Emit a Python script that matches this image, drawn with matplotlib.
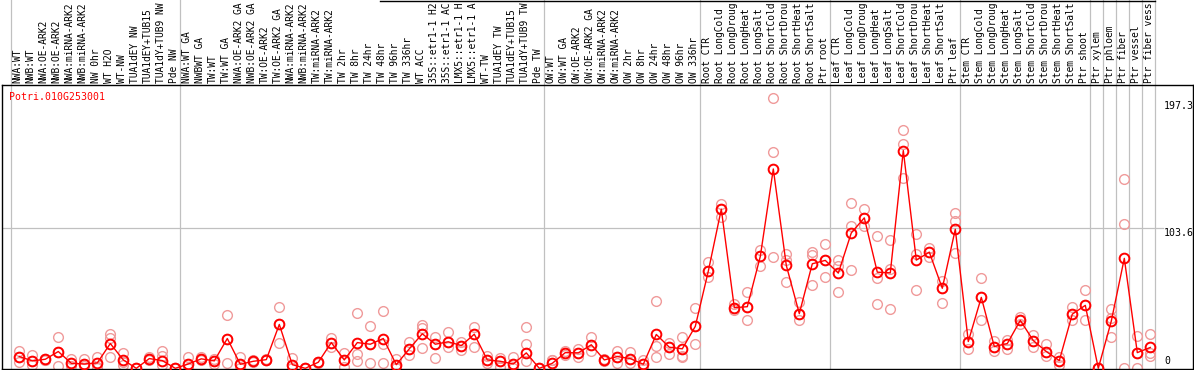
import matplotlib
matplotlib.use("Agg")
import matplotlib.pyplot as plt
from matplotlib.transforms import blended_transform_factory
from matplotlib.lines import Line2D

# sample names (truncated as in the chart)
labels = [
    'NWA:WT', 'NWB:WT', 'NWA:OE-ARK2', 'NWB:OE-ARK2', 'NWA:miRNA-ARK2', 'NWB:miRNA-ARK2',
    'NW 0hr', 'WT H2O', 'WT-NW', 'TUA1dEY NW', 'TUA1dEY+TUB15', 'TUA1dY+TUB9 NW', 'Pde NW',
    'NWA:WT GA', 'NWBWT GA', 'TW:WT', 'TW:WT GA', 'NWA:OE-ARK2 GA', 'NWB:OE-ARK2 GA',
    'TW:OE-ARK2', 'TW:OE-ARK2 GA', 'NWA:miRNA-ARK2', 'NWB:miRNA-ARK2', 'TW:miRNA-ARK2',
    'TW:miRNA-ARK2', 'TW 2hr', 'TW 8hr', 'TW 24hr', 'TW 48hr', 'TW 96hr', 'TW 336hr',
    'WT ACC', '35S::etr1-1 H2', '35S::etr1-1 AC', 'LMX5::etr1-1 H', 'LMX5::etr1-1 A',
    'WT-TW', 'TUA1dEY TW', 'TUA1dEY+TUB15', 'TUA1dY+TUB9 TW', 'Pde TW',
    'OW:WT', 'OW:WT GA', 'OW:OE-ARK2', 'OW:OE-ARK2 GA', 'OW:miRNA-ARK2', 'OW:miRNA-ARK2',
    'OW 2hr', 'OW 8hr', 'OW 24hr', 'OW 48hr', 'OW 96hr', 'OW 336hr',
    'Root CTR', 'Root LongCold', 'Root LongDroug', 'Root LongHeat', 'Root LongSalt',
    'Root ShortCold', 'Root ShortDrou', 'Root ShortHeat', 'Root ShortSalt', 'Ptr root',
    'Leaf CTR', 'Leaf LongCold', 'Leaf LongDroug', 'Leaf LongHeat', 'Leaf LongSalt',
    'Leaf ShortCold', 'Leaf ShortDrou', 'Leaf ShortHeat', 'Leaf ShortSalt', 'Ptr leaf',
    'Stem CTR', 'Stem LongCold', 'Stem LongDroug', 'Stem LongHeat', 'Stem LongSalt',
    'Stem ShortCold', 'Stem ShortDrou', 'Stem ShortHeat', 'Stem ShortSalt', 'Ptr shoot',
    'Ptr xylem', 'Ptr phloem', 'Ptr fiber', 'Ptr vessel', 'Ptr fiber vess',
]

# mean expression per sample
means = [
    8.7, 5.5, 6.7, 12.4, 3.7, 3.2, 4.0, 18.3, 6.2, 0, 7.2, 5.7, 0,
    3.2, 7.0, 5.5, 22.0, 3.0, 5.2, 6.4, 32.4, 2.7, 0, 4.5, 19.0, 6.2, 19.0, 17.8,
    22.0, 2.7, 14.4, 25.5, 17.8, 19.6, 16.8, 25.2, 6.2, 5.2, 3.2, 11.4, 0,
    3.7, 11.6, 11.4, 17.4, 6.2, 8.7, 7.2, 3.0, 25.0, 15.6, 14.4, 31.0,
    71.7, 117.5, 44.8, 45.5, 82.6, 147.2, 76.0, 40.4, 77.2, 79.7,
    70.3, 100.0, 111.1, 71.0, 70.5, 160.8, 79.9, 85.8, 59.1, 102.7,
    19.8, 52.4, 16.1, 18.3, 35.4, 20.5, 12.4, 5.7, 40.0, 46.5,
    0, 34.9, 81.2, 11.6, 15.4,
]

# replicate values
rep1 = [
    12.6, 10.0, 7.2, 22.8, 7.0, 6.7, 8.7, 25.0, 11.0, 0, 8.0, 13.1, 0,
    8.2, 8.7, 6.7, 39.6, 8.7, 6.0, 7.0, 45.5, 7.4, 0, 5.0, 22.5, 11.4, 40.6, 31.0,
    42.6, 7.0, 19.3, 32.2, 23.0, 26.5, 19.6, 30.2, 8.8, 7.7, 8.7, 30.4, 0,
    6.4, 13.0, 13.9, 22.8, 6.8, 13.1, 11.9, 6.4, 50.0, 18.5, 22.8, 44.3,
    78.5, 121.4, 47.3, 56.2, 87.3, 199.9, 84.1, 48.7, 85.6, 91.8,
    79.9, 122.0, 117.5, 97.5, 94.5, 176.1, 99.2, 89.0, 64.3, 114.8,
    25.0, 66.5, 20.5, 21.0, 37.6, 24.3, 17.6, 8.0, 45.0, 57.6,
    0, 44.0, 139.5, 24.0, 25.0,
]
rep2 = [
    8.7, 5.5, 6.5, 12.4, 3.7, 3.2, 1.3, 22.3, 5.0, 0, 7.2, 9.2, 0,
    3.2, 7.0, 5.5, 22.0, 3.0, 5.2, 6.4, 32.4, 2.7, 0, 4.5, 19.0, 6.2, 10.4, 17.8,
    17.8, 2.7, 14.4, 30.0, 17.8, 19.6, 16.8, 25.2, 6.2, 5.2, 3.2, 18.3, 0,
    5.8, 11.6, 11.4, 17.4, 6.2, 8.7, 7.2, 3.0, 16.6, 15.6, 9.4, 31.0,
    71.7, 117.5, 44.8, 45.5, 82.6, 159.8, 79.9, 40.4, 84.0, 79.7,
    75.4, 105.3, 111.1, 67.0, 73.0, 166.0, 84.1, 85.8, 59.1, 108.8,
    19.8, 52.4, 16.1, 18.3, 35.4, 20.5, 12.4, 5.7, 40.0, 46.5,
    0, 37.4, 106.4, 11.6, 11.1,
]
rep3 = [
    5.0, 2.5, 6.4, 2.0, 2.0, 2.0, 0.5, 8.0, 2.7, 0, 6.4, 2.7, 0,
    0.5, 6.0, 3.3, 4.2, 0, 4.5, 5.8, 19.0, 0, 0, 4.0, 15.6, 1.3, 5.7, 4.2,
    4.2, 0, 10.2, 15.1, 7.7, 15.9, 13.6, 16.1, 3.6, 1.3, 0.5, 5.7, 0,
    3.7, 9.6, 8.7, 12.9, 5.6, 4.0, 4.0, 0, 8.2, 10.7, 8.0, 17.6,
    67.6, 112.0, 42.8, 35.4, 75.4, 82.1, 63.6, 35.4, 61.4, 67.3,
    56.2, 72.3, 105.3, 47.3, 43.5, 140.7, 57.6, 82.1, 48.0, 85.1,
    14.6, 35.4, 13.0, 14.6, 33.0, 16.0, 9.0, 2.5, 35.4, 35.4,
    0, 22.8, 0, 0, 9.2,
]

# first sample index of every group (plus the end)
group_starts = [0, 13, 41, 53, 63, 73, 83, 84, 85, 86, 87, 88]

W, H = 1194, 370
fig = plt.figure(figsize=(W / 100, H / 100), dpi=100)
# plot area: x px 2..1193, y px 85..369 (from top)
ax = fig.add_axes([2 / W, 1 / H, 1191 / W, 284 / H])
ax.set_xlim((2 - 19.3) / 13, (1193 - 19.3) / 13)
ax.set_ylim(-0.5, 209.2)
ax.set_xticks([])
ax.set_yticks([])
for s in ax.spines.values():
    s.set_color('black')
    s.set_linewidth(1.0)

mono = 'DejaVu Sans Mono'
gray = '#c0c0c0'

# separators between sample groups, running up through the label area
for k in group_starts:
    ax.axvline(k - 0.615, 0, 369 / 284, color=gray, lw=0.9, clip_on=False, zorder=1)
ax.axhline(103.6, 0, (1163 - 2) / 1191, color=gray, lw=0.9, zorder=1)

x = list(range(len(labels)))
for rep in (rep1, rep2, rep3):
    ax.plot(x, rep, ls='none', marker='o', ms=7, mfc='none', mec='#f09a9a', mew=1.0, zorder=2)
ax.plot(x, means, color='red', lw=1.0, marker='o', ms=7, mfc='none', mec='red', mew=1.4, zorder=3)

# rotated sample labels above the plot
trans = blended_transform_factory(ax.transData, ax.transAxes)
for i, lab in enumerate(labels):
    ax.text(i - 0.12, 1 + 2 / 284, lab, transform=trans, rotation=90, ha='center', va='bottom',
            fontsize=6.9, family=mono, color='black')

# gene id and value labels
fig.text(9 / W, 1 - 92 / H, 'Potri.010G253001', color='red', fontsize=7.1, family=mono, ha='left', va='top')
fig.text(1164 / W, 1 - 101 / H, '197.3', fontsize=7.1, family=mono, ha='left', va='top')
fig.text(1164 / W, 1 - 228 / H, '103.6', fontsize=7.1, family=mono, ha='left', va='top')
fig.text(1164 / W, 1 - 366 / H, '0', fontsize=7.1, family=mono, ha='left', va='bottom')

# top border over the label block
fig.add_artist(Line2D([380 / W, 1155 / W], [1 - 0.5 / H, 1 - 0.5 / H], color='black', lw=1.0))

fig.savefig('out.png', dpi=100)
